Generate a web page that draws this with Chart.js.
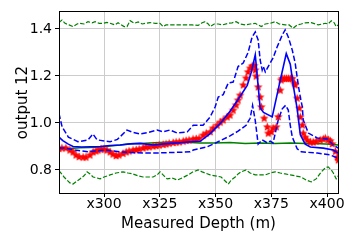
<!DOCTYPE html>
<html><head><meta charset="utf-8">
<script src="https://cdn.jsdelivr.net/npm/chart.js@4.4.1/dist/chart.umd.min.js"></script>
<style>html,body{margin:0;padding:0;background:#fff;}canvas{display:block;}</style>
</head><body>
<canvas id="c" width="358" height="244"></canvas>
<script>
// ---- tick labels ----
const xTicks = [300, 325, 350, 375, 400];
const yTicks = [0.8, 1.0, 1.2, 1.4];

// ---- observations (red stars) ----
const obsDepth = [279.8,281.1,282.9,284.7,286.1,287.4,288.8,290.6,291.9,293.7,295.1,296.4,297.3,298.7,300.0,301.3,302.7,304.0,305.4,306.7,308.5,309.9,311.2,313.0,314.4,315.7,317.5,318.8,320.2,322.0,323.3,324.7,326.5,327.8,329.2,331.0,332.3,333.7,335.5,336.8,338.1,339.9,341.3,342.6,344.4,345.8,347.6,348.9,350.7,352.1,353.4,355.2,356.5,357.9,359.2,360.1,361.0,362.4,363.7,364.6,365.5,366.4,367.3,367.8,368.2,369.1,370.0,370.5,371.8,373.2,373.6,375.0,375.8,377.2,378.1,379.0,379.4,379.9,380.8,381.7,382.6,383.5,384.4,385.3,385.7,386.6,387.5,388.0,388.9,389.3,390.2,391.1,392.5,393.8,395.1,396.9,398.3,399.2,400.5,401.4,402.3,403.7,404.6,405.0];
const obsValue = [0.892,0.894,0.894,0.885,0.877,0.864,0.857,0.855,0.855,0.864,0.877,0.881,0.885,0.889,0.889,0.885,0.877,0.868,0.861,0.864,0.871,0.877,0.881,0.885,0.887,0.889,0.894,0.898,0.899,0.902,0.904,0.906,0.909,0.911,0.914,0.917,0.919,0.920,0.923,0.926,0.928,0.932,0.934,0.935,0.949,0.957,0.963,0.979,0.991,1.004,1.013,1.026,1.034,1.055,1.077,1.098,1.119,1.162,1.192,1.218,1.234,1.243,1.245,1.226,1.200,1.154,1.111,1.069,1.021,0.984,0.957,0.963,0.979,0.984,1.027,1.140,1.183,1.190,1.190,1.190,1.190,1.190,1.190,1.170,1.162,1.106,1.064,1.026,0.992,0.957,0.940,0.928,0.919,0.919,0.923,0.928,0.932,0.936,0.930,0.925,0.912,0.880,0.855,0.843];

// ---- posterior prediction (blue) ----
const postDepth = [279.8,281.5,284.0,286.1,290.0,294.0,298.2,302.7,307.2,311.7,316.2,322.0,329.6,334.0,338.6,343.1,347.6,352.1,356.5,360.1,364.2,366.0,367.8,370.0,371.5,375.4,378.5,381.7,383.5,385.0,386.6,388.0,390.2,392.5,398.3,402.8,405.0];
const postMean = [0.940,0.925,0.910,0.900,0.898,0.899,0.900,0.904,0.906,0.911,0.913,0.906,0.913,0.916,0.920,0.922,0.955,0.998,1.050,1.100,1.160,1.215,1.290,1.064,1.045,1.026,1.160,1.295,1.250,1.150,1.060,0.950,0.910,0.898,0.893,0.885,0.872];

const postUpDepth = [279.8,281.2,284.0,288.3,292.8,295.0,296.9,302.7,306.0,310.3,313.0,316.2,320.0,323.8,326.5,329.6,332.8,337.3,340.0,344.4,347.6,349.8,351.2,353.4,355.7,357.9,360.1,362.4,364.6,366.4,367.8,369.1,370.0,370.9,371.4,372.3,373.6,375.8,377.6,379.9,381.2,382.6,384.4,385.7,387.1,388.0,388.9,389.3,391.6,395.6,400.1,402.8,405.0];
const postUp = [1.040,0.983,0.940,0.920,0.928,0.953,0.928,0.920,0.930,0.970,0.960,0.953,0.960,0.970,0.962,0.970,0.957,0.962,0.990,0.990,1.026,1.068,1.110,1.120,1.170,1.174,1.240,1.255,1.300,1.366,1.387,1.353,1.268,1.225,1.240,1.217,1.240,1.277,1.323,1.374,1.396,1.366,1.310,1.255,1.160,1.110,1.068,1.013,0.957,0.936,0.932,0.906,0.893];

const postLoDepth = [279.8,282.5,287.0,292.8,300.4,307.2,317.5,322.0,330.0,338.6,340.0,346.2,350.7,356.5,360.1,363.7,365.5,366.6,367.8,369.1,370.9,373.2,374.5,375.8,378.1,379.9,381.4,382.6,383.5,384.4,386.6,388.5,395.6,401.4,404.6,405.0];
const postLo = [0.893,0.893,0.885,0.877,0.885,0.877,0.872,0.872,0.874,0.877,0.885,0.898,0.918,0.945,0.965,0.990,1.020,1.075,1.010,0.910,0.928,0.915,0.923,0.915,1.013,1.060,1.075,1.055,0.990,0.940,0.890,0.877,0.872,0.864,0.851,0.848];

// ---- prior prediction (green) ----
const priorDepth = [279.8,284.7,289.2,293.7,298.2,302.7,307.2,311.7,316.2,320.6,325.1,329.6,334.1,338.6,343.1,349.8,356.5,363.3,370.0,376.7,383.5,390.2,396.9,401.4,405.0];
const priorMean = [0.889,0.891,0.894,0.896,0.898,0.902,0.906,0.911,0.913,0.915,0.917,0.919,0.917,0.917,0.915,0.915,0.917,0.913,0.915,0.913,0.915,0.913,0.911,0.909,0.906];

const priorUpDepth = [279.8,280.25,281.15,282.5,284.3,286.1,287.9,289.2,291.0,292.8,294.6,296.0,297.8,299.6,301.3,302.7,304.9,306.3,307.2,309.0,310.3,311.7,313.5,315.3,317.1,318.8,320.6,322.9,325.1,326.5,327.8,329.6,333.2,336.4,339.5,342.2,344.0,345.3,346.7,347.6,349.4,351.2,353.0,355.7,357.4,359.2,361.0,363.3,365.5,367.8,369.1,370.5,372.3,374.5,376.7,378.5,381.2,383.0,384.8,386.6,388.4,390.2,392.9,394.7,396.0,397.8,399.2,400.5,401.9,403.2,404.1,405.0];
const priorUp = [1.426,1.431,1.438,1.424,1.417,1.410,1.421,1.424,1.421,1.431,1.426,1.431,1.424,1.424,1.428,1.424,1.417,1.426,1.421,1.410,1.410,1.435,1.424,1.430,1.421,1.424,1.427,1.424,1.424,1.410,1.417,1.417,1.417,1.417,1.417,1.415,1.426,1.431,1.421,1.410,1.421,1.421,1.417,1.424,1.426,1.431,1.421,1.417,1.421,1.424,1.417,1.410,1.421,1.424,1.431,1.421,1.417,1.417,1.403,1.417,1.421,1.426,1.427,1.421,1.417,1.421,1.424,1.421,1.435,1.426,1.410,1.417];

const priorLoDepth = [279.8,280.25,282.05,283.4,284.7,286.1,287.9,289.2,291.0,292.4,293.7,295.1,296.9,298.2,300.0,302.7,305.4,308.5,310.8,313.0,315.3,317.5,319.7,322.0,323.8,325.1,326.9,328.3,330.5,332.8,335.0,337.7,339.9,342.2,344.0,345.3,347.6,349.8,352.5,354.3,355.7,357.0,358.8,360.1,361.5,363.7,365.5,367.8,370.0,372.3,374.5,376.7,379.0,381.2,383.5,385.7,388.4,390.7,392.9,395.1,397.4,399.2,400.5,401.9,402.8,404.1,405.0];
const priorLo = [0.796,0.792,0.770,0.757,0.745,0.740,0.753,0.762,0.775,0.792,0.783,0.770,0.766,0.762,0.770,0.779,0.787,0.792,0.787,0.783,0.775,0.770,0.770,0.770,0.779,0.792,0.775,0.762,0.766,0.757,0.766,0.779,0.792,0.800,0.792,0.787,0.779,0.775,0.770,0.753,0.740,0.757,0.770,0.783,0.792,0.800,0.787,0.779,0.779,0.779,0.787,0.792,0.787,0.783,0.779,0.775,0.770,0.757,0.749,0.762,0.792,0.809,0.813,0.800,0.787,0.762,0.775];

function pts(xs, ys) { return xs.map((x, i) => ({ x: x, y: ys[i] })); }

// filled star marker like matplotlib '*'
const star = document.createElement('canvas');
star.width = 11; star.height = 11;
(function () {
  const g = star.getContext('2d');
  g.fillStyle = '#ff0000';
  g.beginPath();
  for (let k = 0; k < 10; k++) {
    const r = (k % 2 === 0) ? 4.6 : 2.0;
    const a = -Math.PI / 2 + k * Math.PI / 5;
    const px = 5.5 + r * Math.cos(a), py = 5.9 + r * Math.sin(a);
    if (k === 0) g.moveTo(px, py); else g.lineTo(px, py);
  }
  g.closePath();
  g.fill();
})();

const FONT = 'DejaVu Sans';
const BLUE = '#0000ff', GREEN = '#008000';

const spines = {
  id: 'spines',
  afterDraw(chart) {
    const { ctx, chartArea: a } = chart;
    ctx.save();
    ctx.strokeStyle = '#000';
    ctx.lineWidth = 1;
    ctx.strokeRect(Math.round(a.left) + 0.5, Math.round(a.top) - 0.5, Math.round(a.right - a.left), Math.round(a.bottom - a.top) + 1);
    ctx.restore();
  }
};

function lineDs(data, color, width, dash, order) {
  return { data: data, borderColor: color, borderWidth: width, borderDash: dash, pointRadius: 0, fill: false, tension: 0, order: order };
}

new Chart(document.getElementById('c'), {
  type: 'line',
  data: {
    datasets: [
      lineDs(pts(postDepth, postMean), BLUE, 1.6, [], 0),
      lineDs(pts(postUpDepth, postUp), BLUE, 1.5, [5.5, 2.4], 1),
      lineDs(pts(postLoDepth, postLo), BLUE, 1.5, [5.5, 2.4], 2),
      { data: pts(obsDepth, obsValue), showLine: false, pointStyle: star, pointRadius: 5, borderWidth: 0, backgroundColor: '#ff0000', borderColor: '#ff0000', order: 3 },
      lineDs(pts(priorDepth, priorMean), GREEN, 1.5, [], 4),
      lineDs(pts(priorUpDepth, priorUp), GREEN, 1.2, [4.4, 1.9], 5),
      lineDs(pts(priorLoDepth, priorLo), GREEN, 1.2, [4.4, 1.9], 6)
    ]
  },
  options: {
    responsive: false,
    animation: false,
    devicePixelRatio: 1,
    events: [],
    layout: { padding: { left: 0, right: 20, top: 12, bottom: 0 } },
    plugins: { legend: { display: false }, tooltip: { enabled: false } },
    scales: {
      x: {
        type: 'linear', min: 279.8, max: 404.9,
        afterBuildTicks: s => { s.ticks = xTicks.map(v => ({ value: v })); },
        afterFit: s => { s.height = 51; },
        ticks: { callback: v => 'x' + v, font: { family: FONT, size: 14 }, color: '#000', padding: -1, maxRotation: 0, autoSkip: false },
        grid: { color: '#cccccc', lineWidth: 1, tickColor: '#000', tickLength: 4 },
        border: { display: false },
        title: { display: true, text: 'Measured Depth (m)', font: { family: FONT, size: 15 }, color: '#000', padding: { top: 0, bottom: 11 } }
      },
      y: {
        type: 'linear', min: 0.702, max: 1.472,
        afterBuildTicks: s => { s.ticks = yTicks.map(v => ({ value: v })); },
        afterFit: s => { s.width = 59; },
        ticks: { callback: v => Number(v).toFixed(1), font: { family: FONT, size: 14 }, color: '#000', padding: 3, autoSkip: false },
        grid: { color: '#cccccc', lineWidth: 1, tickColor: '#000', tickLength: 4 },
        border: { display: false },
        title: { display: true, text: 'output 12', font: { family: FONT, size: 15 }, color: '#000', padding: { top: 14, bottom: 0 } }
      }
    }
  },
  plugins: [spines]
});
</script>
</body></html>
